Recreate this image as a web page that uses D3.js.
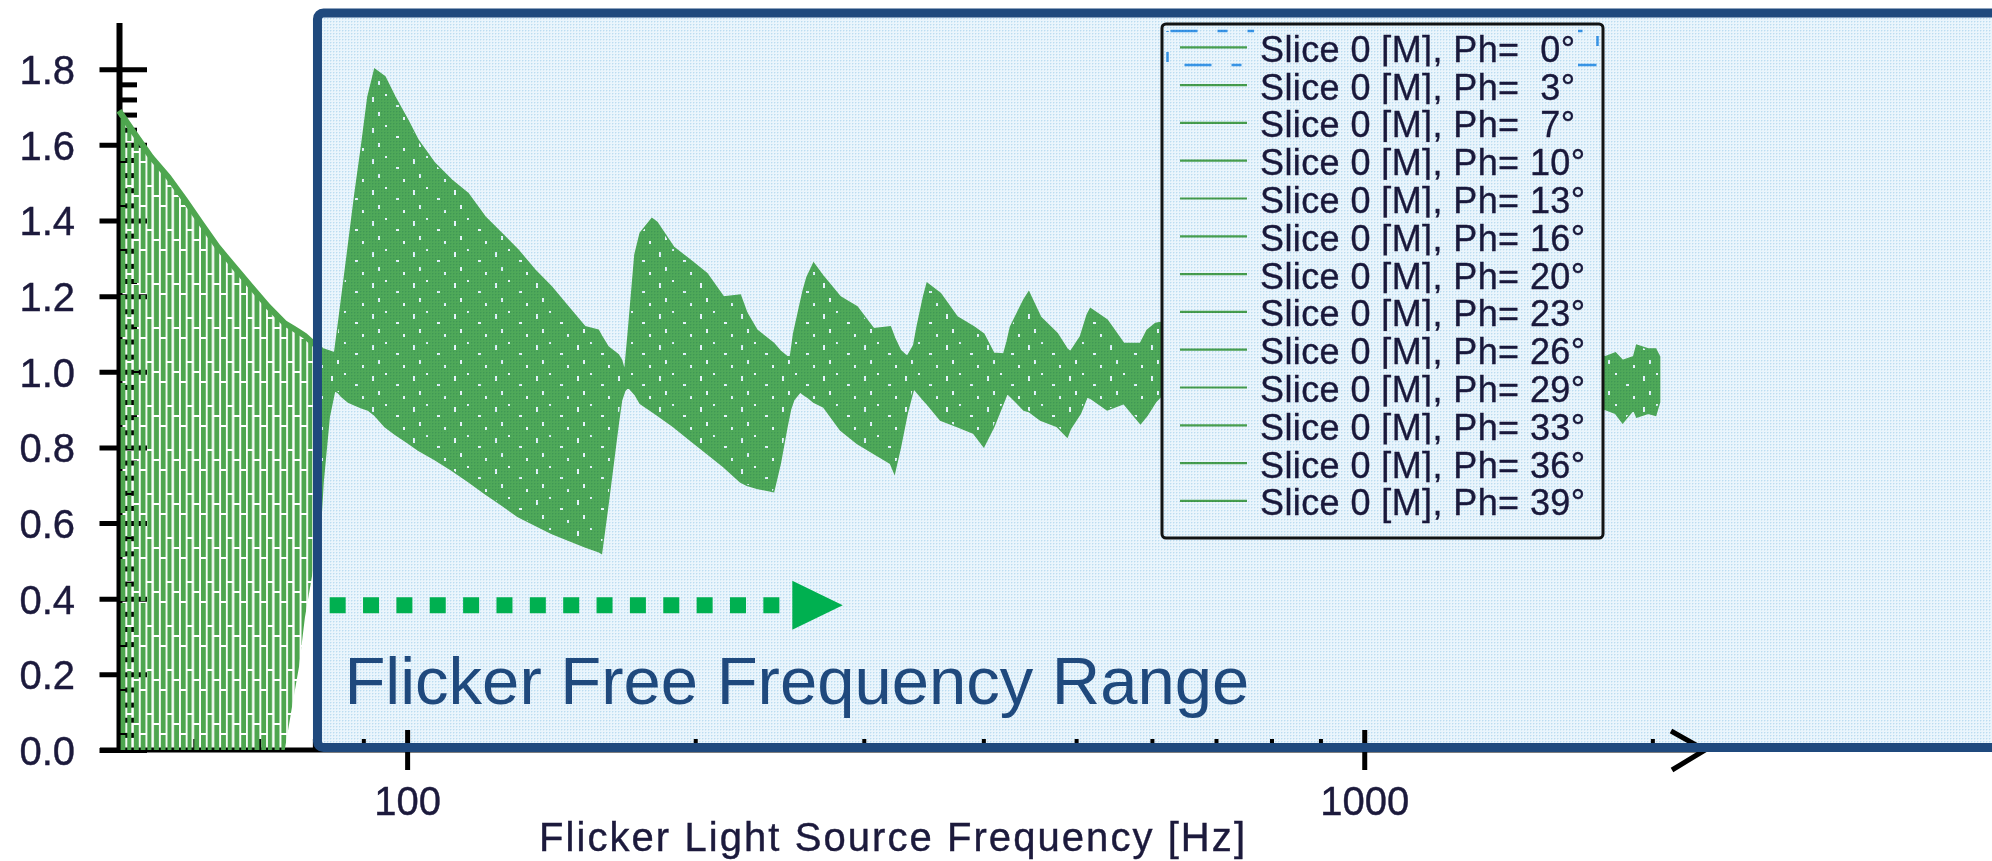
<!DOCTYPE html>
<html>
<head>
<meta charset="utf-8">
<script src="https://cdn.jsdelivr.net/npm/d3@7"></script>
<style>
  html, body { margin: 0; padding: 0; background: #ffffff; }
  svg { display: block; }
  text { font-family: "Liberation Sans", Arial, sans-serif; }
</style>
</head>
<body>
<svg id="chart" width="1992" height="861"></svg>
<script>
// ---- data: spread of the 13 phase slices (max / min over all slices) ----
const freqHz = [
  50.0, 51.9, 54.0, 56.3, 58.6, 60.9, 63.4, 66.0, 68.7, 71.6,
  74.5, 76.0, 77.1, 78.2, 79.8, 81.3, 81.7, 82.9, 84.0, 84.7,
  85.4, 86.8, 88.2, 89.6, 91.0, 92.5, 94.8, 97.1, 100.2, 102.7,
  106.9, 111.3, 115.8, 120.6, 125.5, 130.6, 136.0, 141.5, 147.3, 153.4,
  158.4, 159.6, 162.2, 166.2, 167.5, 168.8, 170.2, 173.0, 175.2, 180.2,
  182.4, 189.8, 197.6, 205.7, 214.1, 222.9, 226.5, 232.0, 241.5, 245.4,
  249.4, 251.5, 253.4, 257.5, 259.4, 261.7, 265.9, 272.4, 283.6, 295.2,
  307.2, 319.8, 323.0, 327.6, 333.0, 338.3, 341.1, 346.5, 349.4, 360.8,
  375.6, 390.9, 400.4, 410.2, 420.1, 423.6, 427.0, 440.9, 446.2, 458.9,
  477.8, 489.4, 493.3, 505.2, 513.4, 517.5, 538.8, 560.7, 583.7, 593.2,
  605.2, 612.5, 700, 850, 1000, 1300, 1600, 1787, 1830, 1862,
  1912, 1926, 1980, 2016, 2035
];
const sliceMax = [
  1.690, 1.630, 1.568, 1.515, 1.454, 1.393, 1.330, 1.277, 1.225, 1.172,
  1.128, 1.115, 1.105, 1.095, 1.075, 1.065, 1.060, 1.055, 1.050, 1.120,
  1.190, 1.330, 1.470, 1.595, 1.727, 1.800, 1.780, 1.727, 1.665, 1.612,
  1.551, 1.507, 1.471, 1.410, 1.366, 1.322, 1.269, 1.225, 1.172, 1.119,
  1.110, 1.095, 1.066, 1.045, 1.031, 1.000, 1.100, 1.310, 1.367, 1.405,
  1.395, 1.330, 1.295, 1.260, 1.198, 1.203, 1.155, 1.110, 1.075, 1.055,
  1.040, 1.040, 1.100, 1.180, 1.216, 1.250, 1.287, 1.251, 1.198, 1.172,
  1.114, 1.119, 1.090, 1.057, 1.040, 1.070, 1.119, 1.200, 1.234, 1.207,
  1.145, 1.119, 1.100, 1.049, 1.047, 1.080, 1.119, 1.190, 1.211, 1.145,
  1.101, 1.060, 1.053, 1.093, 1.150, 1.167, 1.137, 1.075, 1.075, 1.110,
  1.128, 1.130, 1.090, 1.100, 1.080, 1.070, 1.060, 1.040, 1.050, 1.030,
  1.040, 1.070, 1.060, 1.060, 1.040
];
const sliceMin = [
  0.000, 0.000, 0.000, 0.000, 0.000, 0.000, 0.000, 0.000, 0.000, 0.000,
  0.000, 0.130, 0.220, 0.350, 0.480, 0.620, 0.710, 0.880, 0.950, 0.945,
  0.935, 0.920, 0.912, 0.905, 0.899, 0.885, 0.855, 0.835, 0.812, 0.793,
  0.768, 0.740, 0.710, 0.678, 0.648, 0.617, 0.595, 0.573, 0.555, 0.537,
  0.525, 0.520, 0.653, 0.864, 0.925, 0.950, 0.960, 0.940, 0.916, 0.895,
  0.886, 0.855, 0.819, 0.784, 0.749, 0.709, 0.700, 0.692, 0.683, 0.758,
  0.855, 0.900, 0.925, 0.947, 0.940, 0.934, 0.920, 0.907, 0.846, 0.811,
  0.784, 0.758, 0.732, 0.800, 0.890, 0.956, 0.945, 0.925, 0.915, 0.872,
  0.855, 0.837, 0.802, 0.855, 0.920, 0.943, 0.935, 0.899, 0.895, 0.872,
  0.855, 0.828, 0.850, 0.890, 0.934, 0.930, 0.899, 0.916, 0.863, 0.885,
  0.920, 0.934, 0.900, 0.895, 0.910, 0.905, 0.910, 0.900, 0.890, 0.865,
  0.900, 0.880, 0.890, 0.885, 0.920
];
const phasesDeg = [0, 3, 7, 10, 13, 16, 20, 23, 26, 29, 33, 36, 39];
const yTickValues = [0, 0.2, 0.4, 0.6, 0.8, 1.0, 1.2, 1.4, 1.6, 1.8];
const xTickValues = [100, 1000];
const xMinorTickValues = [60, 70, 80, 90, 200, 300, 400, 500, 600, 700, 800, 900, 2000];
const xTitle = "Flicker Light Source Frequency [Hz]";
const rangeTitle = "Flicker Free Frequency Range";
const flickerFreeStartHz = 80.6;

// ---- styling ----
const W = 1992, H = 861;
const GREEN = "#4ea64f";
const GREEN_TINTED = "#56b05a";
const ARROW_GREEN = "#00b050";
const NAVY = "#1f497d";
const INK = "#1c1a3c";

const svg = d3.select("#chart");
const x = d3.scaleLog().domain([50, 2270]).range([119, 1705]);
const y = d3.scaleLinear().domain([0, 1.8]).range([750, 69.2]);

const defs = svg.append("defs");

// vertical aliasing stripes for the low-frequency part of the band
const stripes = defs.append("pattern").attr("id", "aliasStripes")
  .attr("patternUnits", "userSpaceOnUse").attr("width", 20.1).attr("height", 44);
[[0, 0, 4.8, 29], [0, 31, 4.8, 13], [6.6, 0, 4.2, 9], [6.6, 11, 4.2, 33],
 [13.2, 0, 5.0, 19], [13.2, 21, 5.0, 23]].forEach(r =>
  stripes.append("rect").attr("x", r[0]).attr("y", r[1]).attr("width", r[2]).attr("height", r[3]).attr("fill", GREEN));

// dense mesh of the slices with a few gaps between lines
const mesh = defs.append("pattern").attr("id", "mesh")
  .attr("patternUnits", "userSpaceOnUse").attr("width", 41).attr("height", 31);
mesh.append("rect").attr("width", 41).attr("height", 31).attr("fill", GREEN_TINTED);
[[3, 4, 2, 5], [16, 1, 2, 2], [27, 12, 3, 2], [9, 19, 2, 4], [34, 24, 2, 3]].forEach(r =>
  mesh.append("rect").attr("x", r[0]).attr("y", r[1]).attr("width", r[2]).attr("height", r[3]).attr("fill", "#ffffff"));

// light-blue dithered tint for the highlighted range
const tint = defs.append("pattern").attr("id", "tint")
  .attr("patternUnits", "userSpaceOnUse").attr("width", 3).attr("height", 3);
tint.append("rect").attr("width", 3).attr("height", 3).attr("fill", "#eaf5fc");
tint.append("rect").attr("x", 0).attr("y", 0).attr("width", 1).attr("height", 1).attr("fill", "#bcdcf1");
tint.append("rect").attr("x", 1).attr("y", 0).attr("width", 1).attr("height", 1).attr("fill", "#d6ebf7");
tint.append("rect").attr("x", 0).attr("y", 1).attr("width", 1).attr("height", 1).attr("fill", "#d6ebf7");

const frameLeft = x(flickerFreeStartHz);
defs.append("clipPath").attr("id", "clipLow").append("rect")
  .attr("x", 0).attr("y", 0).attr("width", frameLeft).attr("height", H);
defs.append("clipPath").attr("id", "clipHigh").append("rect")
  .attr("x", frameLeft).attr("y", 0).attr("width", W - frameLeft).attr("height", H);

svg.append("rect").attr("width", W).attr("height", H).attr("fill", "#ffffff");

// ---- axes ----
const axisX0 = x.range()[0] + 0.5;
const yAxis = svg.append("g").attr("transform", `translate(${axisX0},0)`)
  .call(d3.axisLeft(y).tickValues(yTickValues).tickFormat(d3.format(".1f"))
    .tickSizeInner(20).tickSizeOuter(0).tickPadding(24.5));
yAxis.select(".domain").remove();
yAxis.selectAll(".tick line").attr("x1", 27.5).attr("stroke", "#000").attr("stroke-width", 5);
yAxis.selectAll(".tick text").attr("font-size", 40).attr("fill", INK)
  .attr("stroke", INK).attr("stroke-width", 0.4)
  .attr("font-family", "'Liberation Sans', Arial, sans-serif").attr("dy", "0.36em");

const yMinor = yTickValues.slice(0, -1).flatMap(v => [1, 2, 3, 4].map(k => v + k * 0.04));
const yMinorAxis = svg.append("g").attr("transform", `translate(${axisX0},0)`)
  .call(d3.axisLeft(y).tickValues(yMinor).tickFormat("").tickSizeInner(-17.5).tickSizeOuter(0));
yMinorAxis.select(".domain").remove();
yMinorAxis.selectAll(".tick line").attr("stroke", "#000").attr("stroke-width", 5);

const xAxis = svg.append("g").attr("transform", `translate(0,${y(0)})`)
  .call(d3.axisBottom(x).tickValues(xTickValues).tickFormat(d3.format("d"))
    .tickSizeInner(20).tickSizeOuter(0).tickPadding(16.6));
xAxis.select(".domain").remove();
xAxis.selectAll(".tick line").attr("y1", -20).attr("stroke", "#000").attr("stroke-width", 5);
xAxis.selectAll(".tick text").attr("font-size", 40).attr("fill", INK)
  .attr("stroke", INK).attr("stroke-width", 0.4)
  .attr("font-family", "'Liberation Sans', Arial, sans-serif");

const xMinorAxis = svg.append("g").attr("transform", `translate(0,${y(0)})`)
  .call(d3.axisBottom(x).tickValues(xMinorTickValues).tickFormat("").tickSizeInner(-11).tickSizeOuter(0));
xMinorAxis.select(".domain").remove();
xMinorAxis.selectAll(".tick line").attr("stroke", "#000").attr("stroke-width", 4);

// axis lines with an arrow at the frequency end
svg.append("path").attr("d", `M${axisX0},23V${y(0) + 2.5}`)
  .attr("stroke", "#000").attr("stroke-width", 6).attr("fill", "none");
const xEnd = x.range()[1];
svg.append("path").attr("d", `M100,${y(0)}H${xEnd}`)
  .attr("stroke", "#000").attr("stroke-width", 5).attr("fill", "none");
svg.append("path").attr("d", `M${xEnd - 34},${y(0) - 19}L${xEnd},${y(0)}L${xEnd - 33},${y(0) + 20}`)
  .attr("stroke", "#000").attr("stroke-width", 5).attr("fill", "none");

svg.append("text").attr("x", 539).attr("y", 851)
  .attr("font-size", 40).attr("fill", INK).attr("stroke", INK).attr("stroke-width", 0.4)
  .attr("textLength", 706).attr("lengthAdjust", "spacing")
  .text(xTitle);

// ---- band of the 13 slices ----
const rows = freqHz.map((f, i) => ({ f, hi: sliceMax[i], lo: sliceMin[i] }));
const band = d3.area().x(d => x(d.f)).y0(d => y(d.lo)).y1(d => y(d.hi));
const topEdge = d3.line().x(d => x(d.f)).y(d => y(d.hi));

svg.append("path").datum(rows).attr("d", band)
  .attr("fill", "url(#aliasStripes)").attr("clip-path", "url(#clipLow)");
svg.append("path").datum(rows).attr("d", topEdge)
  .attr("fill", "none").attr("stroke", GREEN).attr("stroke-width", 6)
  .attr("clip-path", "url(#clipLow)");
svg.append("path").datum(rows).attr("d", band)
  .attr("fill", "url(#mesh)").attr("stroke", GREEN_TINTED).attr("stroke-width", 1.5)
  .attr("clip-path", "url(#clipHigh)");

// ---- legend ----
const lg = { x: 1162, y: 24, w: 441, h: 514, row0: 61.7, step: 37.8, textX: 1260 };
const legend = svg.append("g");
legend.append("rect").attr("x", lg.x).attr("y", lg.y).attr("width", lg.w).attr("height", lg.h)
  .attr("rx", 4).attr("fill", "#ffffff").attr("stroke", "#141414").attr("stroke-width", 3);

// keyboard-focus outline on the first entry
legend.append("rect").attr("x", 1167.5).attr("y", 31).attr("width", 430).attr("height", 34)
  .attr("fill", "none").attr("stroke", "#3d9be9").attr("stroke-width", 2.5)
  .attr("stroke-dasharray", "27 20 10 20").attr("stroke-dashoffset", -3);

const entries = legend.selectAll("g.entry").data(phasesDeg).join("g").attr("class", "entry")
  .attr("transform", (d, i) => `translate(0,${lg.row0 + i * lg.step})`);
entries.append("rect").attr("x", 1254).attr("y", -33).attr("width", 324).attr("height", 38)
  .attr("fill", "#ffffff");
entries.append("line").attr("x1", 1180).attr("x2", 1247).attr("y1", -14.4).attr("y2", -14.4)
  .attr("stroke", GREEN).attr("stroke-width", 2.2);
entries.append("text").attr("x", lg.textX).attr("y", 0)
  .attr("font-size", 36).attr("fill", INK).attr("stroke", INK).attr("stroke-width", 0.35)
  .attr("letter-spacing", 0.4)
  .style("white-space", "pre")
  .text(d => `Slice 0 [M], Ph=${d < 10 ? "  " : " "}${d}\u00B0`);

// ---- highlighted flicker-free range ----
const frameTop = 13;
const frameBottom = y(0) - 2.5;
svg.append("rect").attr("x", frameLeft).attr("y", frameTop)
  .attr("width", W - frameLeft + 20).attr("height", frameBottom - frameTop)
  .attr("fill", "url(#tint)").style("mix-blend-mode", "multiply");
svg.append("rect").attr("x", frameLeft).attr("y", frameTop)
  .attr("width", W - frameLeft + 20).attr("height", frameBottom - frameTop)
  .attr("rx", 6).attr("fill", "none").attr("stroke", NAVY).attr("stroke-width", 9);

// dotted arrow and caption
const arrowY = y(0.383);
svg.append("line").attr("x1", x(83)).attr("x2", x(245)).attr("y1", arrowY).attr("y2", arrowY)
  .attr("stroke", ARROW_GREEN).attr("stroke-width", 16).attr("stroke-dasharray", "16 17.36");
const headL = x(252.6), headR = x(285.2);
svg.append("path").attr("d", `M${headL},${arrowY - 24.5}L${headR},${arrowY}L${headL},${arrowY + 24.5}Z`)
  .attr("fill", ARROW_GREEN);

svg.append("text").attr("x", x(86.0)).attr("y", y(0.122))
  .attr("font-size", 67).attr("fill", NAVY)
  .text(rangeTitle);
</script>
</body>
</html>
